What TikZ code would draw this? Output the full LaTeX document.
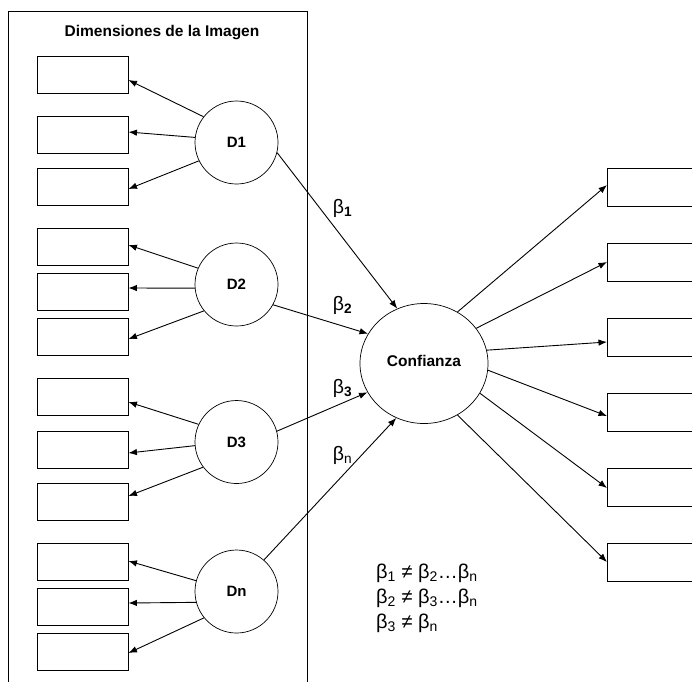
\documentclass[tikz,border=0pt]{standalone}
\usepackage{fontspec}
\setmainfont{Liberation Sans}
\usetikzlibrary{arrows.meta,calc,shapes.geometric}
\begin{document}
\begin{tikzpicture}[x=1pt,y=-1pt,
  ind/.style={draw, line width=0.9pt, minimum width=91pt, minimum height=37pt, inner sep=0pt},
  outbox/.style={draw, line width=0.9pt, minimum width=100pt, minimum height=38pt, inner sep=0pt, anchor=west},
  lat/.style={draw, circle, line width=0.7pt, minimum size=83pt, inner sep=0pt, font=\fontsize{15}{18}\selectfont\bfseries},
  arr/.style={line width=0.9pt, -{Latex[length=8.5pt,width=6.5pt]}},
  betalab/.style={font=\fontsize{19.5}{22}\selectfont, inner sep=0pt},
  eqn/.style={font=\fontsize{20}{22}\selectfont, inner sep=0pt, anchor=base west},
]
\useasboundingbox (0,0) rectangle (692,681);
% panel
\draw[line width=0.9pt] (8,690) -- (8,11) -- (307,11) -- (307,690);
\node[font=\fontsize{15.5}{18}\selectfont\bfseries] (title) at (162,33) {Dimensiones de la Imagen};

% indicator boxes
\foreach \n/\y in {a1/74.5,a2/134.5,a3/187, b1/247,b2/292,b3/337, c1/397,c2/449.5,c3/502, d1/562,d2/607,d3/652}
  \node[ind] (\n) at (82.5,\y) {};

% latent variables
\node[lat] (D1) at (236.5,142.5) {D1};
\node[lat] (D2) at (236.5,284.5) {D2};
\node[lat] (D3) at (236.5,442) {D3};
\node[lat] (Dn) at (236.5,591.5) {Dn};
\node[draw, ellipse, line width=0.7pt, minimum width=128pt, minimum height=120pt, inner sep=0pt,
      font=\fontsize{15.5}{18}\selectfont\bfseries] (C) at (424,363.5) {\raisebox{5pt}{Confianza}};

% right boxes
\foreach \n/\y in {r1/187,r2/262,r3/337,r4/412,r5/487,r6/562}
  \node[outbox] (\n) at (607,\y) {};

% arrows to indicators
\draw[arr] (D1.142.7) -- ($(a1.east)+(0,5.5)$);
\draw[arr] (D1.173.8) -- ($(a2.east)+(0,-2.5)$);
\draw[arr] (D1.206) -- ($(a3.east)+(0,2)$);
\draw[arr] (D2.157) -- ($(b1.east)+(0,-2)$);
\draw[arr] (D2.185) -- ($(b2.east)+(0,-4)$);
\draw[arr] (D2.219.4) -- ($(b3.east)+(0,2)$);
\draw[arr] (D3.155.4) -- ($(c1.east)+(0,5)$);
\draw[arr] (D3.185.5) -- ($(c2.east)+(0,3.5)$);
\draw[arr] (D3.217.8) -- ($(c3.east)+(0,-6)$);
\draw[arr] (Dn.165.8) -- ($(d1.east)+(0,-1)$);
\draw[arr] (Dn.195.5) -- ($(d2.east)+(0,-4)$);
\draw[arr] (Dn.219.4) -- ($(d3.east)+(0,1)$);

% structural paths
\draw[arr] (D1.-14.2) -- (C.116.8);
\draw[arr] (D2.-29.3) -- (C.152.3);
\draw[arr] (D3.15.2) -- (C.207.4);
\draw[arr] (Dn.49) -- (C.243.2);

\node[betalab] (b1l) at (342.5,208) {β\textsubscript{\textbf{1}}};
\node[betalab] (b2l) at (342.5,305) {β\textsubscript{\textbf{2}}};
\node[betalab] (b3l) at (342.5,388) {β\textsubscript{\textbf{3}}};
\node[betalab] (bnl) at (342.5,455) {β\textsubscript{n}};

% outgoing
\draw[arr] (C.57.4) -- ($(r1.west)+(0,-2)$);
\draw[arr] (C.34.3) -- (r2.west);
\draw[arr] (C.12.8) -- ($(r3.west)+(0,5)$);
\draw[arr] (C.-6.7) -- ($(r4.west)+(0,4)$);
\draw[arr] (C.-28.2) -- ($(r5.west)+(0,1)$);
\draw[arr] (C.-57.8) -- (r6.west);

% equations
\node[eqn] (e1) at (376,578) {β\textsubscript{1} ≠ β\textsubscript{2}…β\textsubscript{n}};
\node[eqn] (e2) at (376,603) {β\textsubscript{2} ≠ β\textsubscript{3}…β\textsubscript{n}};
\node[eqn] (e3) at (376,628) {β\textsubscript{3} ≠ β\textsubscript{n}};
\end{tikzpicture}
\end{document}
